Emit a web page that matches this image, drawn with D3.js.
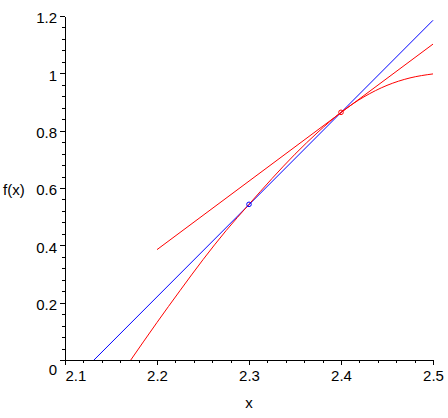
<!DOCTYPE html>
<meta charset="utf-8">
<style>
body { margin: 0; background: #fff; }
svg text { font-family: "Liberation Sans", Arial, sans-serif; font-size: 15px; fill: #000; }
.axis path, .axis line { stroke: #000; shape-rendering: crispEdges; }
</style>
<script src="https://d3js.org/d3.v7.min.js"></script>
<div id="chart"></div>
<script>

// values
var curveX = [2.1715, 2.2, 2.225, 2.25, 2.275, 2.3, 2.325, 2.35, 2.375, 2.4, 2.425, 2.45, 2.475, 2.5];
var curveY = [0, 0.131, 0.242, 0.350, 0.451, 0.543, 0.633, 0.718, 0.795, 0.864, 0.918, 0.958, 0.984, 0.998];
var secantX = [2.1315, 2.5];
var secantY = [0, 1.185];
var tangentX = [2.2, 2.5];
var tangentY = [0.385, 1.102];
var pointX = [2.3, 2.4];
var pointY = [0.543, 0.864];
var pointColor = ["blue", "red"];
var xTicks = [2.1, 2.2, 2.3, 2.4, 2.5];
var yTicks = [0, 0.2, 0.4, 0.6, 0.8, 1, 1.2];

var W = 448, H = 418;
var margin = {top: 16, right: 15, bottom: 58, left: 65};

var svg = d3.select("#chart").append("svg")
  .attr("width", W)
  .attr("height", H);

var x = d3.scaleLinear().domain([2.1, 2.5]).range([margin.left, W - margin.right]);
var y = d3.scaleLinear().domain([0, 1.2]).range([H - margin.bottom, margin.top]);

// minor ticks
var xMinor = d3.range(0, 21).map(function(i) { return 2.1 + i * 0.02; });
var yMinor = d3.range(0, 31).map(function(i) { return i * 0.04; });

svg.append("g")
  .attr("class", "axis")
  .attr("transform", "translate(0," + y(0) + ")")
  .call(d3.axisBottom(x).tickValues(xMinor).tickSize(3).tickSizeOuter(0).tickFormat(""))
  .select(".domain").remove();

svg.append("g")
  .attr("class", "axis")
  .attr("transform", "translate(" + x(2.1) + ",0)")
  .call(d3.axisLeft(y).tickValues(yMinor).tickSize(3).tickSizeOuter(0).tickFormat(""))
  .select(".domain").remove();

// major ticks + labels
var gx = svg.append("g")
  .attr("class", "axis")
  .attr("transform", "translate(0," + y(0) + ")")
  .call(d3.axisBottom(x).tickValues(xTicks).tickSize(5).tickSizeOuter(0).tickPadding(5)
    .tickFormat(function(d) { return d3.format(".1f")(d); }));
gx.selectAll("text").attr("font-size", null).attr("font-family", null)
  .filter(function(d) { return d === 2.1; })
  .attr("text-anchor", "start");

var gy = svg.append("g")
  .attr("class", "axis")
  .attr("transform", "translate(" + x(2.1) + ",0)")
  .call(d3.axisLeft(y).tickValues(yTicks).tickSize(5).tickSizeOuter(0).tickPadding(3)
    .tickFormat(function(d) { return d === 0 || d === 1 ? String(d) : d3.format(".1f")(d); }));
gy.selectAll("text").attr("font-size", null).attr("font-family", null)
  .attr("dy", "0.45em")
  .filter(function(d) { return d === 0; })
  .attr("dy", "0.95em");

// axis titles
svg.append("text")
  .attr("x", x(2.3))
  .attr("y", 408)
  .attr("text-anchor", "middle")
  .text("x");

svg.append("text")
  .attr("x", 3)
  .attr("y", 195)
  .text("f(x)");

// lines
var line = d3.line()
  .x(function(d) { return x(d[0]); })
  .y(function(d) { return y(d[1]); });

svg.append("path")
  .datum(d3.zip(secantX, secantY))
  .attr("d", line)
  .attr("fill", "none")
  .attr("stroke", "blue")
  .attr("stroke-width", 1);

svg.append("path")
  .datum(d3.zip(tangentX, tangentY))
  .attr("d", line)
  .attr("fill", "none")
  .attr("stroke", "red")
  .attr("stroke-width", 1);

svg.append("path")
  .datum(d3.zip(curveX, curveY))
  .attr("d", line.curve(d3.curveMonotoneX))
  .attr("fill", "none")
  .attr("stroke", "red")
  .attr("stroke-width", 1);

// points
svg.selectAll(".pt")
  .data(d3.range(pointX.length))
  .enter().append("circle")
  .attr("class", "pt")
  .attr("cx", function(i) { return x(pointX[i]); })
  .attr("cy", function(i) { return y(pointY[i]); })
  .attr("r", 2.3)
  .attr("fill", "none")
  .attr("stroke", function(i) { return pointColor[i]; })
  .attr("stroke-width", 1);

</script>
